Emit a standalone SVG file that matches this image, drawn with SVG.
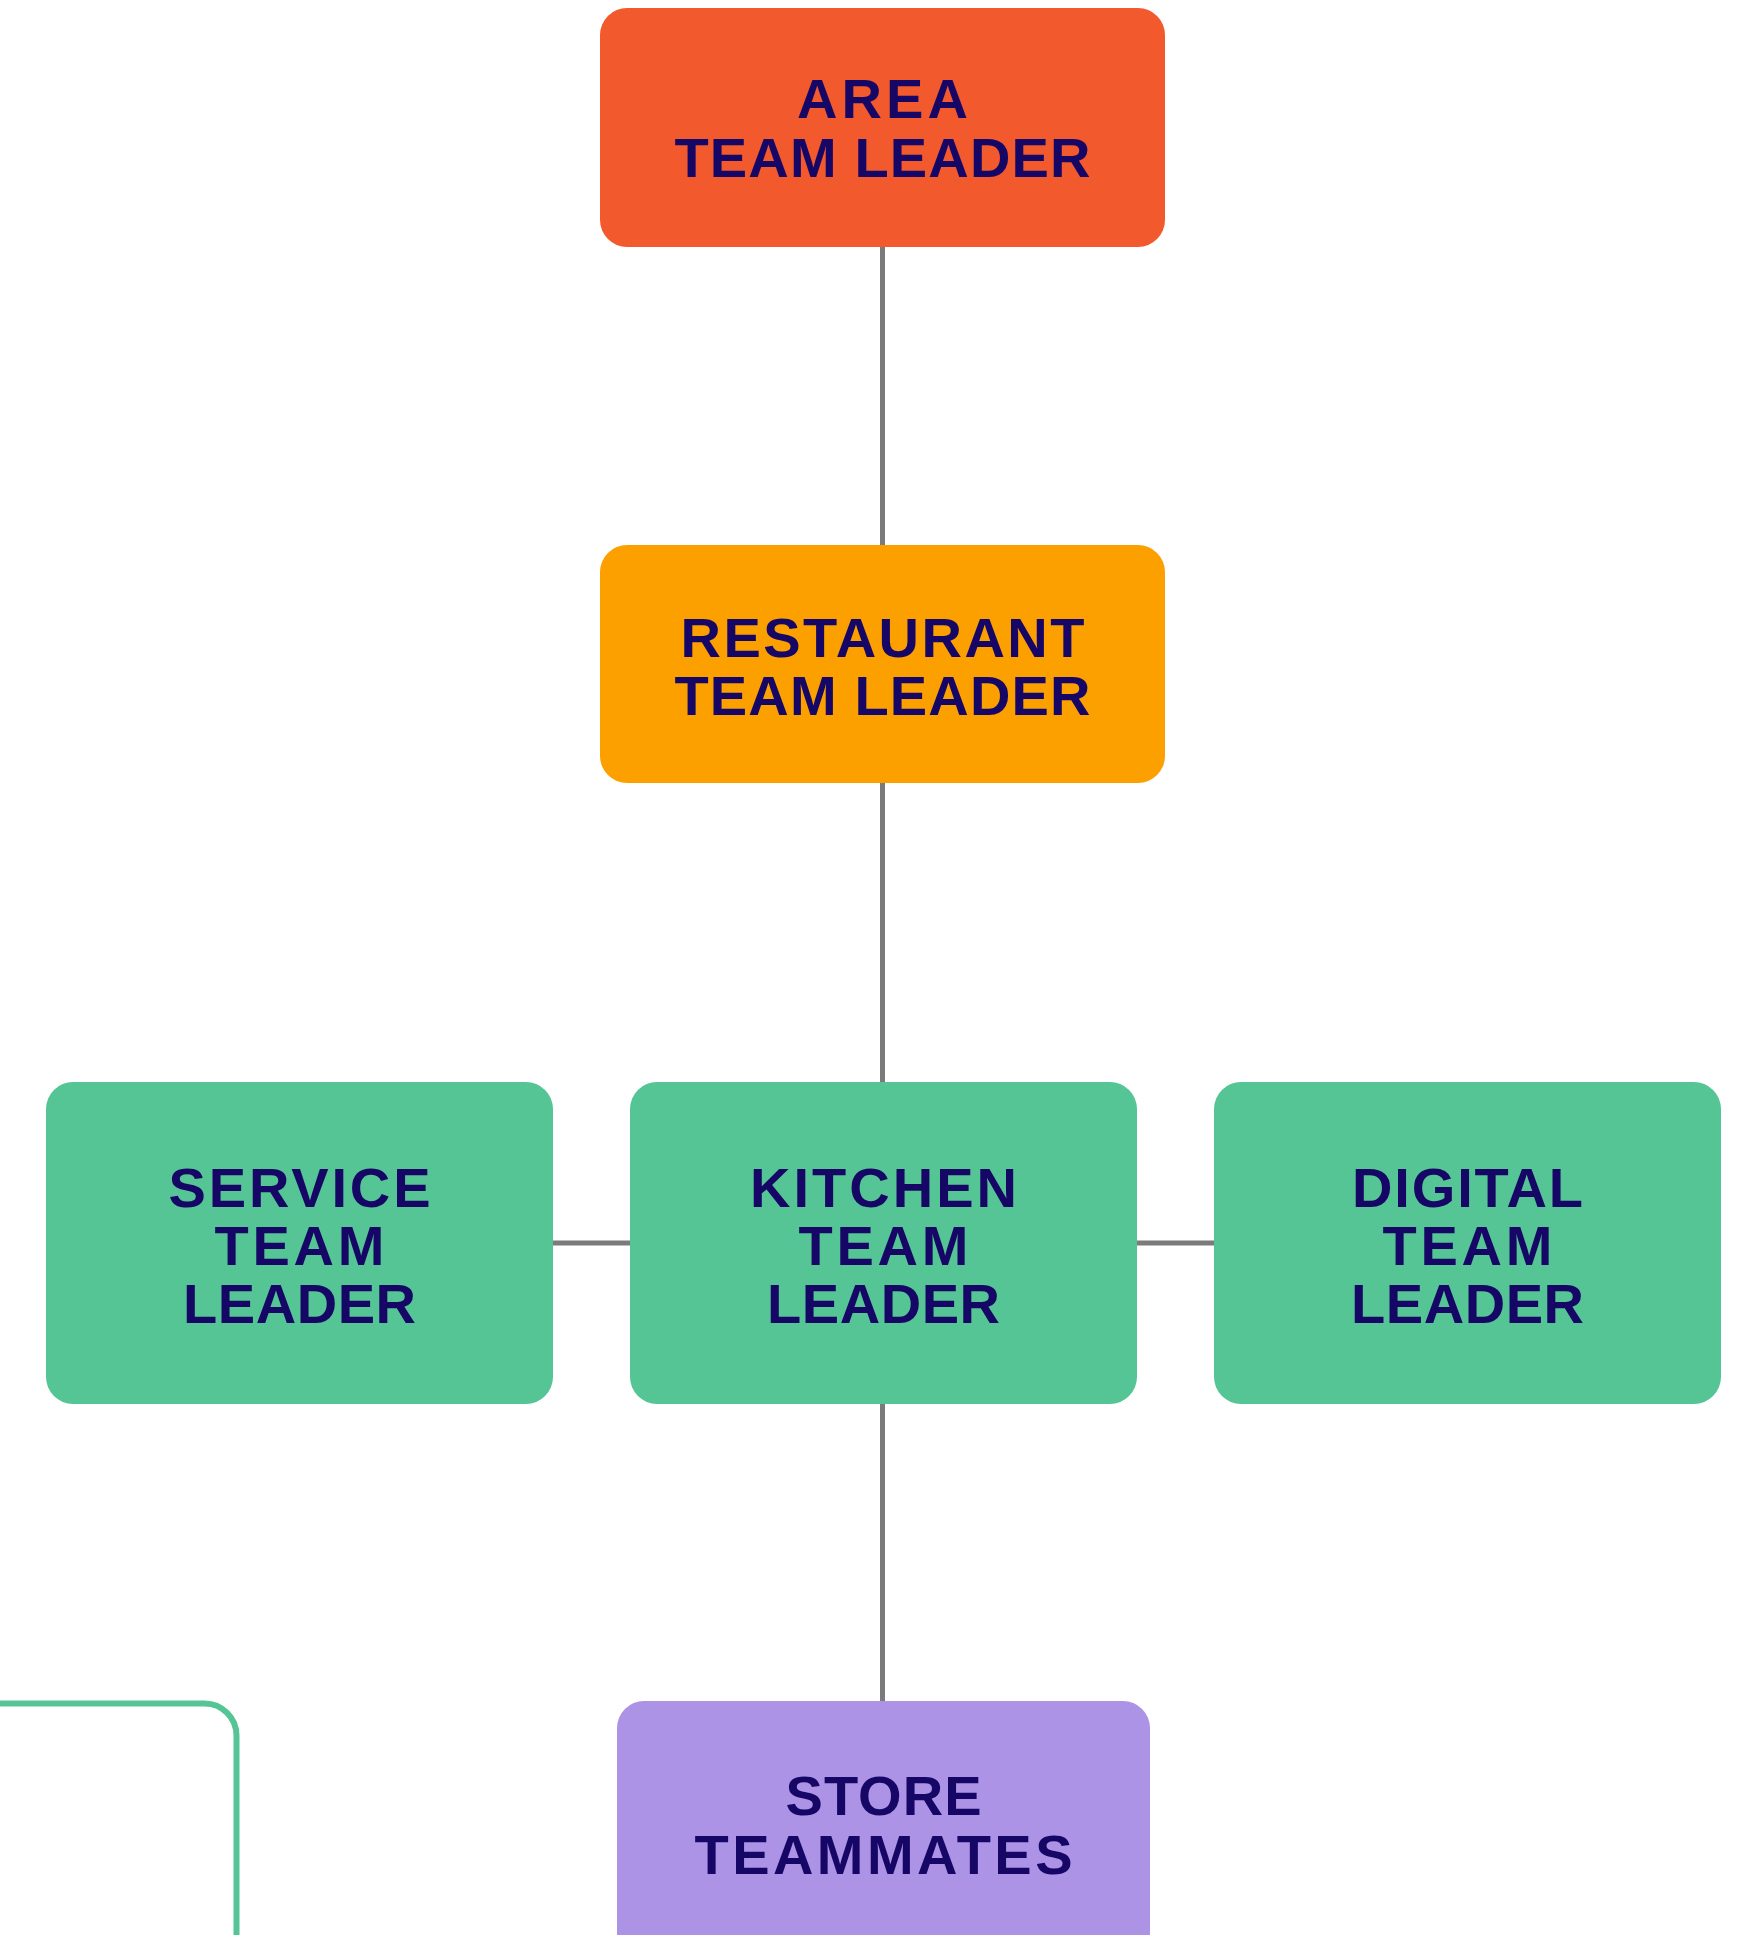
<svg xmlns="http://www.w3.org/2000/svg" width="1742" height="1935" viewBox="0 0 1742 1935">
<style>
.lbl{font-family:"Liberation Sans",Arial,sans-serif;font-weight:700;font-size:56px;fill:#160766;text-anchor:middle}
.conn{stroke:#7b7b7b;stroke-width:5;fill:none}
</style>
<rect x="0" y="0" width="1742" height="1935" fill="#ffffff"/>
<g id="connectors">
<line class="conn" x1="882.5" y1="247" x2="882.5" y2="545"/>
<line class="conn" x1="882.5" y1="783" x2="882.5" y2="1082"/>
<line class="conn" x1="553" y1="1243" x2="630" y2="1243"/>
<line class="conn" x1="1137" y1="1243" x2="1214" y2="1243"/>
<line class="conn" x1="882.5" y1="1404" x2="882.5" y2="1701"/>
</g>
<g id="area">
<rect x="600" y="8" width="565" height="239" rx="27" fill="#F2592D"/>
<text class="lbl" x="882.5" y="118" textLength="171" lengthAdjust="spacing">AREA</text>
<text class="lbl" x="882.5" y="177" textLength="416" lengthAdjust="spacing">TEAM LEADER</text>
</g>
<g id="restaurant">
<rect x="600" y="545" width="565" height="238" rx="27" fill="#FCA000"/>
<text class="lbl" x="882.5" y="657" textLength="404" lengthAdjust="spacing">RESTAURANT</text>
<text class="lbl" x="882.5" y="715" textLength="416" lengthAdjust="spacing">TEAM LEADER</text>
</g>
<g id="service">
<rect x="46" y="1082" width="507" height="322" rx="27" fill="#55C596"/>
<text class="lbl" x="299.5" y="1207" textLength="262" lengthAdjust="spacing">SERVICE</text>
<text class="lbl" x="299.5" y="1265" textLength="170" lengthAdjust="spacing">TEAM</text>
<text class="lbl" x="299.5" y="1323" textLength="233" lengthAdjust="spacing">LEADER</text>
</g>
<g id="kitchen">
<rect x="630" y="1082" width="507" height="322" rx="27" fill="#55C596"/>
<text class="lbl" x="883.5" y="1207" textLength="267" lengthAdjust="spacing">KITCHEN</text>
<text class="lbl" x="883.5" y="1265" textLength="170" lengthAdjust="spacing">TEAM</text>
<text class="lbl" x="883.5" y="1323" textLength="233" lengthAdjust="spacing">LEADER</text>
</g>
<g id="digital">
<rect x="1214" y="1082" width="507" height="322" rx="27" fill="#55C596"/>
<text class="lbl" x="1467.5" y="1207" textLength="231" lengthAdjust="spacing">DIGITAL</text>
<text class="lbl" x="1467.5" y="1265" textLength="170" lengthAdjust="spacing">TEAM</text>
<text class="lbl" x="1467.5" y="1323" textLength="233" lengthAdjust="spacing">LEADER</text>
</g>
<g id="store">
<rect x="617" y="1701" width="533" height="280" rx="27" fill="#AD93E6"/>
<text class="lbl" x="883.5" y="1815" textLength="196" lengthAdjust="spacing">STORE</text>
<text class="lbl" x="883.5" y="1874" textLength="378" lengthAdjust="spacing">TEAMMATES</text>
</g>
<g id="outline">
<path d="M -10 1703.5 H 204.5 A 32 32 0 0 1 236.5 1735.5 V 1945" fill="none" stroke="#55C596" stroke-width="6"/>
</g>
</svg>
